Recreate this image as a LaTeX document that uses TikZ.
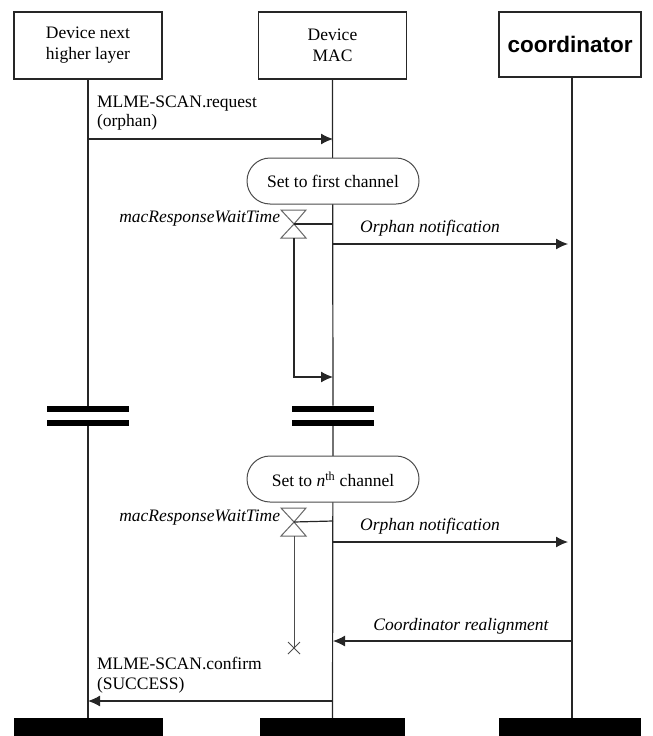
\documentclass[tikz,border=0pt]{standalone}
\usepackage{fontspec}
\setmainfont{Liberation Serif}
\newfontfamily\arialfont{Liberation Sans}
\usetikzlibrary{arrows.meta,shapes.misc}
\begin{document}
\begin{tikzpicture}[x=1pt,y=-1pt,
  every node/.style={inner sep=0pt,outer sep=0pt},
  entity/.style={draw=black!85,line width=1.3pt,minimum width=148pt,minimum height=67pt,align=center,font=\fontsize{17.5}{21}\selectfont},
  foot/.style={fill=black,minimum width=149pt,minimum height=18pt},
  brk/.style={fill=black,minimum width=82pt,minimum height=6pt},
  life/.style={draw=black!85,line width=1.2pt},
  msg/.style={draw=black!85,line width=1.2pt,-{Latex[length=12pt,width=11pt]}},
  state/.style={draw=black!70,line width=1pt,rounded rectangle,minimum width=172pt,minimum height=46pt,font=\fontsize{17.5}{20}\selectfont},
  lbl/.style={font=\fontsize{17.5}{19.5}\selectfont,align=left,anchor=west},
  ilbl/.style={font=\fontsize{17.5}{20}\selectfont\itshape},
  timer/.style={draw=black!60,line width=1pt},
]
\useasboundingbox (0,0) rectangle (653,736);
% entities
\node[entity] (nhl) at (88,45.5) {Device next\\higher layer};
\node[entity] (mac) at (332.5,45.5) {Device\\MAC};
\node[entity,minimum width=142pt,minimum height=65pt] (coord) at (570,44.5) {\arialfont\bfseries\fontsize{22.5}{26}\selectfont coordinator};
% feet
\node[foot] (fnhl) at (88,727) {};
\node[foot,minimum width=145pt] (fmac) at (332.5,727) {};
\node[foot,minimum width=142pt] (fcoord) at (570,727) {};
% break bars
\node[brk] (b1a) at (88,408.5) {};
\node[brk] (b1b) at (88,423) {};
\node[brk] (b2a) at (333,408.5) {};
\node[brk] (b2b) at (333,423) {};
% lifelines
\draw[life] (nhl.south) -- (b1a.north);
\draw[life] (b1b.south) -- (fnhl.north);
\draw[life] (mac.south) -- (b2a.north);
\draw[life] (b2b.south) -- (fmac.north);
\draw[life] (coord.south -| 572,0) -- (fcoord.north -| 572,0);
% request
\coordinate (req1) at (88,139);
\coordinate (req2) at (333,139);
\draw[msg] (req1) -- (req2);
\node[lbl] (reqt) at (97,113) {MLME-SCAN.request\\(orphan)};
% state 1
\node[state,fill=white] (s1) at (333,181) {Set to first channel};
% hourglass 1
\coordinate (h1) at (294,224);
\draw[timer,fill=white] (281,210) -- (306,210) -- (h1) -- cycle;
\draw[timer,fill=white] (h1) -- (281,238) -- (306,238) -- cycle;
\node[ilbl,anchor=east] (w1) at (280,219) {macResponseWaitTime};
\coordinate (h1r) at (333,224);
\draw[draw=black!85,line width=1.2pt] (h1) -- (h1r);
\coordinate (o1a) at (333,244);
\coordinate (o1b) at (568,244);
\draw[msg] (o1a) -- (o1b);
\node[ilbl] (o1t) at (430,228) {Orphan notification};
\coordinate (t1a) at (294,238);
\coordinate (t1b) at (294,377);
\coordinate (t1c) at (333,377);
\draw[msg] (t1a) -- (t1b) -- (t1c);
% state 2
\node[state,fill=white] (s2) at (333,479) {Set to \textit{n}\textsuperscript{th} channel};
% hourglass 2
\coordinate (h2) at (294,522);
\draw[timer,fill=white] (281,508) -- (306,508) -- (h2) -- cycle;
\draw[timer,fill=white] (h2) -- (281,536) -- (306,536) -- cycle;
\node[ilbl,anchor=east] (w2) at (280,518) {macResponseWaitTime};
\coordinate (h2r) at (333,521);
\draw[draw=black!85,line width=1.2pt] (h2) -- (h2r);
\coordinate (o2a) at (333,542);
\coordinate (o2b) at (568,542);
\draw[msg] (o2a) -- (o2b);
\node[ilbl] (o2t) at (430,526) {Orphan notification};
\coordinate (t2a) at (294,536);
\coordinate (t2b) at (294,648);
\draw[draw=black!70,line width=1pt] (t2a) -- (t2b);
\draw[draw=black!70,line width=1pt] (288,642) -- (300,654) (288,654) -- (300,642);
% realignment
\coordinate (ra) at (572,641);
\coordinate (rb) at (333,641);
\draw[msg] (ra) -- (rb);
\node[ilbl] (rt) at (461,626) {Coordinator realignment};
% confirm
\coordinate (ca) at (333,701);
\coordinate (cb) at (88,701);
\draw[msg] (ca) -- (cb);
\node[lbl] (ct) at (97,675) {MLME-SCAN.confirm\\(SUCCESS)};
\end{tikzpicture}
\end{document}
